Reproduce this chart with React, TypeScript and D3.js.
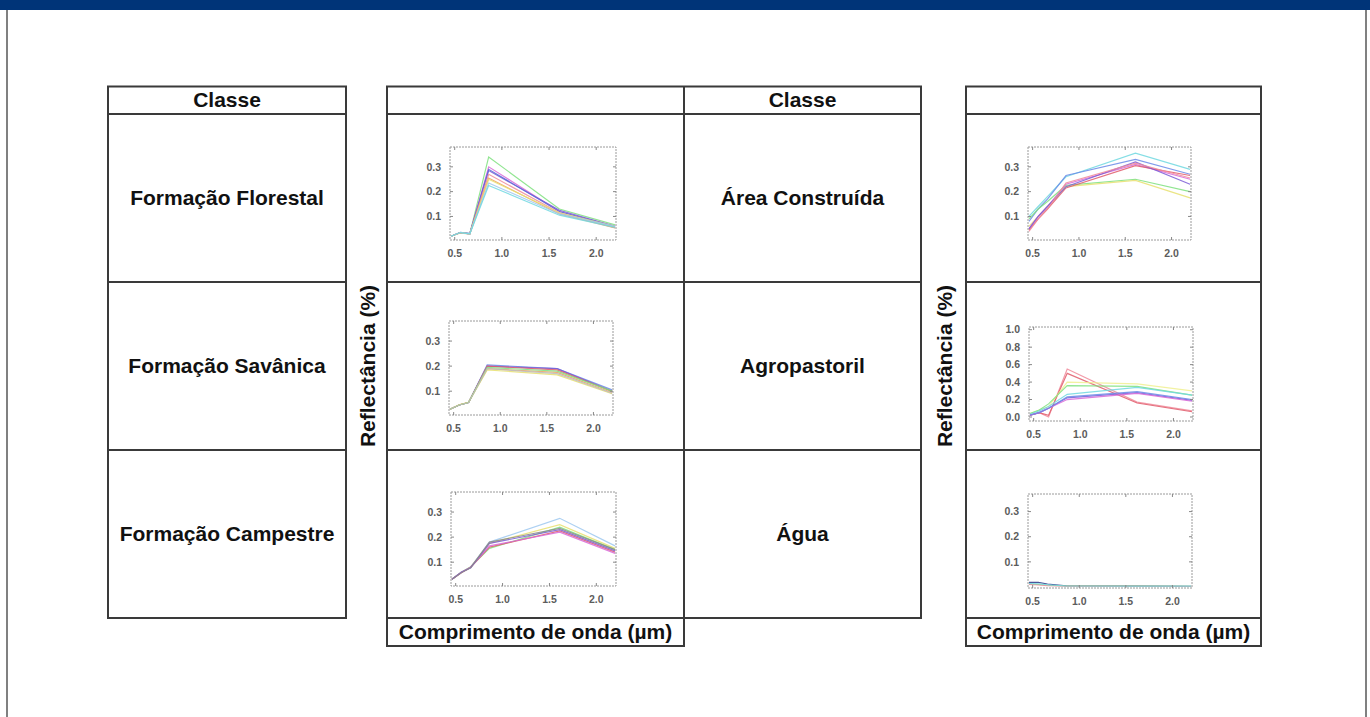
import React from "react";
import * as d3 from "d3";

// ---------- data ----------
const wavelengths = [0.46, 0.56, 0.66, 0.86, 1.61, 2.2];
const xTicks = [0.5, 1.0, 1.5, 2.0];
const yTicksSmall = [0.1, 0.2, 0.3];
const yTicksLarge = [0.0, 0.2, 0.4, 0.6, 0.8, 1.0];

const leftClasses = ["Formação Florestal", "Formação Savânica", "Formação Campestre"];
const rightClasses = ["Área Construída", "Agropastoril", "Água"];

const florestalValues = [
  [0.02, 0.035, 0.03, 0.34, 0.13, 0.066],
  [0.02, 0.035, 0.03, 0.3, 0.12, 0.06],
  [0.02, 0.035, 0.03, 0.285, 0.125, 0.06],
  [0.02, 0.036, 0.032, 0.29, 0.12, 0.058],
  [0.02, 0.035, 0.03, 0.27, 0.115, 0.055],
  [0.02, 0.033, 0.03, 0.255, 0.11, 0.054],
  [0.02, 0.035, 0.03, 0.25, 0.115, 0.06],
  [0.02, 0.035, 0.03, 0.235, 0.11, 0.06],
  [0.02, 0.035, 0.03, 0.225, 0.105, 0.056],
];
const savanicaValues = [
  [0.028, 0.045, 0.055, 0.205, 0.19, 0.105],
  [0.028, 0.045, 0.055, 0.2, 0.19, 0.1],
  [0.028, 0.045, 0.055, 0.2, 0.185, 0.1],
  [0.028, 0.046, 0.056, 0.19, 0.175, 0.095],
  [0.028, 0.046, 0.056, 0.185, 0.165, 0.09],
  [0.028, 0.045, 0.055, 0.195, 0.18, 0.1],
  [0.028, 0.045, 0.055, 0.19, 0.17, 0.092],
];
const campestreValues = [
  [0.032, 0.06, 0.08, 0.18, 0.275, 0.165],
  [0.032, 0.06, 0.08, 0.175, 0.25, 0.155],
  [0.032, 0.06, 0.082, 0.155, 0.24, 0.15],
  [0.032, 0.058, 0.08, 0.16, 0.225, 0.14],
  [0.032, 0.06, 0.08, 0.165, 0.22, 0.135],
  [0.032, 0.06, 0.078, 0.175, 0.23, 0.145],
  [0.032, 0.058, 0.078, 0.18, 0.235, 0.15],
];
const construidaValues = [
  [0.1, 0.14, 0.18, 0.26, 0.355, 0.29],
  [0.08, 0.13, 0.17, 0.265, 0.33, 0.27],
  [0.09, 0.13, 0.16, 0.225, 0.25, 0.2],
  [0.06, 0.1, 0.14, 0.22, 0.245, 0.175],
  [0.05, 0.1, 0.14, 0.23, 0.31, 0.25],
  [0.045, 0.09, 0.13, 0.215, 0.305, 0.265],
  [0.05, 0.1, 0.14, 0.22, 0.32, 0.23],
  [0.04, 0.09, 0.13, 0.235, 0.315, 0.255],
];
const agropastorilValues = [
  [0.02, 0.05, 0.0, 0.55, 0.17, 0.07],
  [0.02, 0.05, 0.02, 0.5, 0.16, 0.06],
  [0.04, 0.08, 0.12, 0.4, 0.38, 0.3],
  [0.04, 0.08, 0.15, 0.36, 0.35, 0.25],
  [0.03, 0.07, 0.12, 0.26, 0.34, 0.25],
  [0.02, 0.05, 0.1, 0.22, 0.28, 0.19],
  [0.02, 0.05, 0.1, 0.2, 0.27, 0.18],
  [0.02, 0.05, 0.1, 0.23, 0.29, 0.2],
];
const aguaValues = [
  [0.018, 0.018, 0.012, 0.005, 0.004, 0.003],
  [0.012, 0.01, 0.007, 0.004, 0.004, 0.003],
  [0.01, 0.008, 0.005, 0.003, 0.003, 0.002],
  [0.014, 0.013, 0.009, 0.004, 0.003, 0.003],
];

// ---------- styles / layout ----------
const florestalColors = ["#7ee07e", "#d86ad8", "#7a5cd6", "#5a6ad8", "#f08a9a", "#f0a060", "#e8e070", "#9ec8f0", "#70d8e0"];
const savanicaColors = ["#6a8ae8", "#7a5cd6", "#e05a6a", "#f0a060", "#e8e070", "#7ee07e", "#bbbbbb"];
const campestreColors = ["#9ec8f0", "#e8e070", "#7ee07e", "#e05a6a", "#d86ad8", "#7a5cd6", "#888888"];
const construidaColors = ["#70d8e0", "#6a8ae8", "#7ee07e", "#e8e070", "#d86ad8", "#e05a6a", "#7a5cd6", "#f08a9a"];
const agropastorilColors = ["#f08a9a", "#e05a6a", "#f0f090", "#7ee07e", "#70d8e0", "#7a5cd6", "#d86ad8", "#6a8ae8"];
const aguaColors = ["#2a3a8a", "#7ee07e", "#f08a9a", "#70d8e0"];

const FONT = "'Liberation Sans', Arial, sans-serif";
const LINE = "#3a3a3a";

const charts = [
  { values: florestalValues, colors: florestalColors, yDomain: [0.005, 0.38], yTicks: yTicksSmall, box: { x: 450, y: 147, w: 166, h: 93 } },
  { values: savanicaValues, colors: savanicaColors, yDomain: [0.005, 0.38], yTicks: yTicksSmall, box: { x: 449, y: 321, w: 164, h: 94 } },
  { values: campestreValues, colors: campestreColors, yDomain: [0.005, 0.38], yTicks: yTicksSmall, box: { x: 451, y: 492, w: 165, h: 94 } },
  { values: construidaValues, colors: construidaColors, yDomain: [0.005, 0.38], yTicks: yTicksSmall, box: { x: 1028, y: 147, w: 163, h: 93 } },
  { values: agropastorilValues, colors: agropastorilColors, yDomain: [-0.046, 1.031], yTicks: yTicksLarge, box: { x: 1029, y: 327, w: 164, h: 94 } },
  { values: aguaValues, colors: aguaColors, yDomain: [-0.004, 0.37], yTicks: yTicksSmall, box: { x: 1028, y: 494, w: 164, h: 94 } },
];

const rowTops = [114, 282, 450];
const rowH = 168;
const fmt = d3.format(".1f");

function MiniChart({ cfg, idx }: any) {
  const { box, values, colors, yDomain, yTicks } = cfg;
  const x = d3.scaleLinear().domain([0.45, 2.21]).range([box.x, box.x + box.w]);
  const y = d3.scaleLinear().domain(yDomain).range([box.y + box.h, box.y]);
  const line = d3
    .line<number>()
    .x((_, i) => x(wavelengths[i]))
    .y((v) => y(v));
  const clipId = `clip-${idx}`;
  return (
    <g>
      <defs>
        <clipPath id={clipId}>
          <rect x={box.x} y={box.y} width={box.w} height={box.h} />
        </clipPath>
      </defs>
      <g clipPath={`url(#${clipId})`}>
        {values.map((s: number[], i: number) => (
          <path key={i} d={line(s) || ""} fill="none" stroke={colors[i]} strokeWidth={1.2} strokeOpacity={0.85} />
        ))}
      </g>
      <rect x={box.x} y={box.y} width={box.w} height={box.h} fill="none" stroke="#9a9a9a" strokeWidth={1} strokeDasharray="2,1" />
      {xTicks.map((t) => (
        <g key={"x" + t}>
          <line x1={x(t)} x2={x(t)} y1={box.y + box.h} y2={box.y + box.h - 3} stroke="#888" />
          <line x1={x(t)} x2={x(t)} y1={box.y} y2={box.y + 3} stroke="#888" />
          <text x={x(t)} y={box.y + box.h + 16.5} textAnchor="middle" fontSize={10.5} fontWeight="bold" fill="#5c5c5c" fontFamily={FONT}>
            {fmt(t)}
          </text>
        </g>
      ))}
      {yTicks.map((t: number) => (
        <g key={"y" + t}>
          <line x1={box.x} x2={box.x + 3} y1={y(t)} y2={y(t)} stroke="#888" />
          <line x1={box.x + box.w} x2={box.x + box.w - 3} y1={y(t)} y2={y(t)} stroke="#888" />
          <text x={box.x - 9} y={y(t)} dy="0.35em" textAnchor="end" fontSize={10.5} fontWeight="bold" fill="#5c5c5c" fontFamily={FONT}>
            {fmt(t)}
          </text>
        </g>
      ))}
    </g>
  );
}

function CellText({ x, y, children, rotate }: any) {
  return (
    <text
      x={x}
      y={y}
      dy="0.35em"
      textAnchor="middle"
      fontSize={21}
      fontWeight="bold"
      fill="#111"
      fontFamily={FONT}
      transform={rotate ? `rotate(-90 ${x} ${y})` : undefined}
    >
      {children}
    </text>
  );
}

export default function App() {
  const tableTop = 86.5;
  const tableBottom = 618;
  return (
    <svg width={1370} height={717} style={{ position: "absolute", left: 0, top: 0, background: "#fff" }}>
      <rect x={0} y={0} width={1370} height={10} fill="#003478" />
      <line x1={7} x2={7} y1={10} y2={717} stroke="#808080" strokeWidth={2} />
      <line x1={1366} x2={1366} y1={10} y2={717} stroke="#808080" strokeWidth={2} />

      <g stroke={LINE} strokeWidth={2} fill="none">
        {/* left table */}
        <rect x={108} y={tableTop} width={238} height={tableBottom - tableTop} />
        {rowTops.map((r) => (
          <line key={r} x1={108} x2={346} y1={r} y2={r} />
        ))}
        {/* middle table */}
        <rect x={387} y={tableTop} width={534} height={tableBottom - tableTop} />
        <line x1={684} x2={684} y1={tableTop} y2={tableBottom} />
        {rowTops.map((r) => (
          <line key={"m" + r} x1={387} x2={921} y1={r} y2={r} />
        ))}
        <rect x={387} y={tableBottom} width={297} height={28} />
        {/* right table */}
        <rect x={966} y={tableTop} width={295} height={tableBottom - tableTop} />
        {rowTops.map((r) => (
          <line key={"r" + r} x1={966} x2={1261} y1={r} y2={r} />
        ))}
        <rect x={966} y={tableBottom} width={295} height={28} />
      </g>

      <CellText x={227} y={100}>Classe</CellText>
      <CellText x={802.5} y={100}>Classe</CellText>
      {leftClasses.map((c, i) => (
        <CellText key={c} x={227} y={rowTops[i] + rowH / 2}>{c}</CellText>
      ))}
      {rightClasses.map((c, i) => (
        <CellText key={c} x={802.5} y={rowTops[i] + rowH / 2}>{c}</CellText>
      ))}
      <CellText x={535.5} y={632}>Comprimento de onda (µm)</CellText>
      <CellText x={1113.5} y={632}>Comprimento de onda (µm)</CellText>
      <CellText x={368} y={366} rotate>Reflectância (%)</CellText>
      <CellText x={945} y={366} rotate>Reflectância (%)</CellText>

      {charts.map((c, i) => (
        <MiniChart key={i} cfg={c} idx={i} />
      ))}
    </svg>
  );
}
